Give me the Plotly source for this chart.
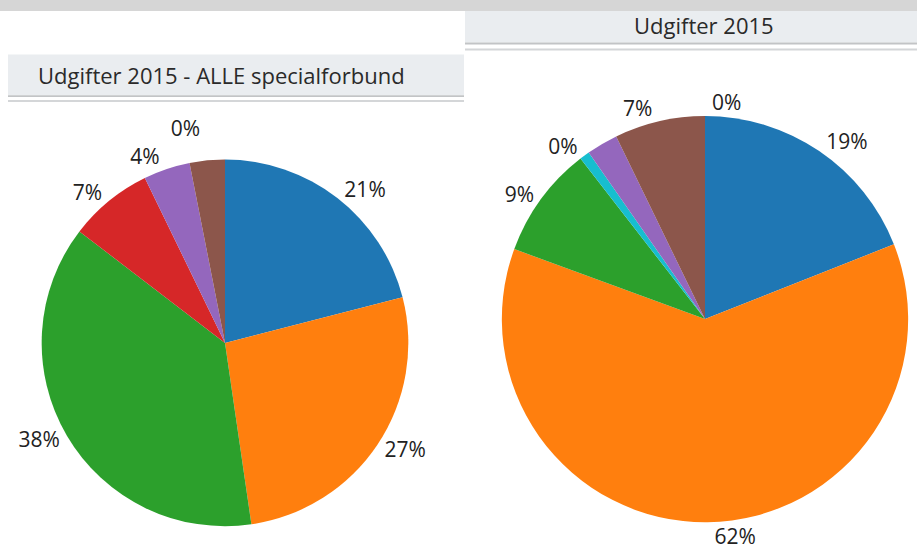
import plotly.graph_objects as go

W, H = 917, 555

# Left pie: "Udgifter 2015 - ALLE specialforbund"
left_values = [21, 26.7, 37.7, 7.4, 4.1, 3.1]
left_labels = ["21%", "27%", "38%", "7%", "4%", "0%"]
left_colors = ["#1f77b4", "#ff7f0e", "#2ca02c", "#d62728", "#9467bd", "#8c564b"]

# Right pie: "Udgifter 2015"
right_values = [19, 61.6, 8.9, 0.8, 2.5, 7.2, 0.0]
right_labels = ["19%", "62%", "9%", "0%", "", "7%", "0%"]
right_colors = ["#1f77b4", "#ff7f0e", "#2ca02c", "#17becf", "#9467bd", "#8c564b", "#e377c2"]

titles = ["Udgifter 2015 - ALLE specialforbund", "Udgifter 2015"]


def px_x(x):
    return x / W


def px_y(y):
    return 1 - y / H


def dom(cx, cy, r):
    return dict(x=[px_x(cx - r), px_x(cx + r)], y=[px_y(cy + r), px_y(cy - r)])


label_font = dict(family="Open Sans, Arial, sans-serif", size=21, color="#222222")

fig = go.Figure()
fig.add_trace(go.Pie(
    values=left_values, text=left_labels, textinfo="text", textposition="outside",
    sort=False, direction="clockwise", rotation=0,
    marker=dict(colors=left_colors, line=dict(width=0)),
    domain=dom(225, 346, 185), outsidetextfont=label_font, showlegend=False,
    hoverinfo="skip",
))
fig.add_trace(go.Pie(
    values=right_values, text=right_labels, textinfo="text", textposition="outside",
    sort=False, direction="clockwise", rotation=0,
    marker=dict(colors=right_colors, line=dict(width=0)),
    domain=dom(705, 322, 205), outsidetextfont=label_font, showlegend=False,
    hoverinfo="skip",
))

shapes = []


def rect(x0, y0, x1, y1, color):
    shapes.append(dict(type="rect", xref="paper", yref="paper",
                       x0=px_x(x0), x1=px_x(x1), y0=px_y(y1), y1=px_y(y0),
                       fillcolor=color, line=dict(width=0), layer="below"))


# top gray band
rect(0, 0, W, 11, "#d6d6d6")
# left title bar and lines
rect(8, 55, 464, 96, "#eaedf0")
rect(8, 96, 464, 98, "#c2c4c6")
rect(8, 101, 464, 103, "#d4d6d8")
# right title bar and lines
rect(465, 11, W, 43, "#eaedf0")
rect(465, 43, W, 45, "#c2c4c6")
rect(465, 49, W, 51, "#d4d6d8")

title_font = dict(family="Open Sans, Arial, sans-serif", size=22, color="#2a2a2a")
annotations = [
    dict(text=titles[0], x=px_x(36), y=px_y(76), xref="paper", yref="paper",
         xanchor="left", yanchor="middle", showarrow=False, font=title_font),
    dict(text=titles[1], x=px_x(704), y=px_y(25), xref="paper", yref="paper",
         xanchor="center", yanchor="middle", showarrow=False, font=title_font),
]

fig.update_layout(
    width=W, height=H, margin=dict(l=0, r=0, t=0, b=0),
    paper_bgcolor="white", plot_bgcolor="white",
    shapes=shapes, annotations=annotations,
)

post = (
    "var de=document.documentElement, b=document.body;"
    "de.style.overflow='hidden'; b.style.margin='0'; b.style.overflow='hidden';"
    "document.querySelectorAll('path.textline').forEach(function(e){e.style.display='none';});"
)
fig.write_html("out.html", post_script=post, config={"displayModeBar": False})
